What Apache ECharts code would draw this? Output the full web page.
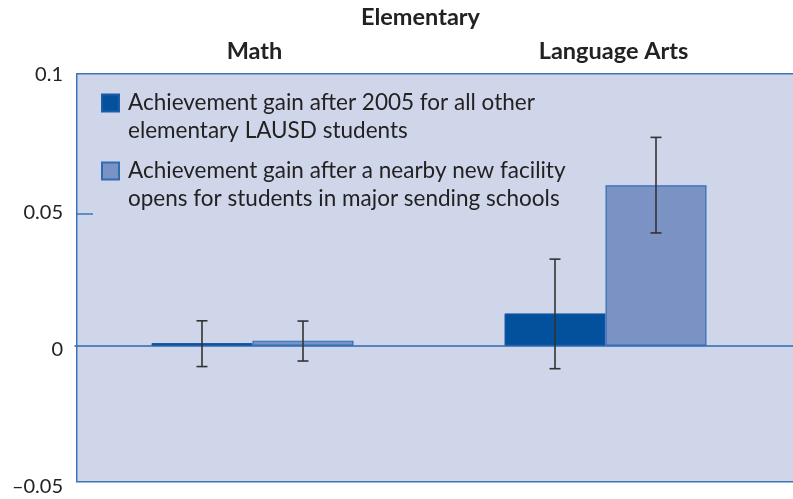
<!DOCTYPE html>
<html>
<head>
<meta charset="utf-8">
<script src="https://cdn.jsdelivr.net/npm/echarts@6/dist/echarts.min.js"></script>
<style>
  html, body { margin: 0; padding: 0; background: #fff; }
  #chart { width: 793px; height: 499px; }
</style>
</head>
<body>
<div id="chart"></div>
<script>
const categories = ["Math", "Language Arts"];
const seriesNames = [
  "Achievement gain after 2005 for all other elementary LAUSD students",
  "Achievement gain after a nearby new facility opens for students in major sending schools",
];
const legendLabels = [
  "Achievement gain after 2005 for all other\nelementary LAUSD students",
  "Achievement gain after a nearby new facility\nopens for students in major sending schools",
];
const otherGain = [0.001, 0.0122];
const otherLow = [-0.0079, -0.0087];
const otherHigh = [0.0094, 0.0327];
const nearbyGain = [0.0019, 0.0606];
const nearbyLow = [-0.0058, 0.0426];
const nearbyHigh = [0.0093, 0.0787];
const yLabels = [-0.05, 0, 0.05, 0.1];

const colors = ["#03519c", "#7b93c4"];
const FONT = "Lato";
const BAR_W = 101;

const chart = echarts.init(document.getElementById("chart"));

// error bars drawn on top of each bar, offset to the bar's centre
const errorSeries = (low, high, offset) => ({
  type: "custom",
  xAxisIndex: 0,
  yAxisIndex: 0,
  z: 5,
  silent: true,
  data: categories.map((c, i) => [i, low[i], high[i]]),
  renderItem: (params, api) => {
    const x = api.coord([api.value(0), 0])[0] + offset;
    const yLo = api.coord([api.value(0), api.value(1)])[1];
    const yHi = api.coord([api.value(0), api.value(2)])[1];
    const style = { stroke: "#333", lineWidth: 1.6 };
    return {
      type: "group",
      children: [
        { type: "line", shape: { x1: x, y1: yLo, x2: x, y2: yHi }, style },
        { type: "line", shape: { x1: x - 5.5, y1: yLo, x2: x + 5.5, y2: yLo }, style },
        { type: "line", shape: { x1: x - 5.5, y1: yHi, x2: x + 5.5, y2: yHi }, style },
      ],
    };
  },
});

const option = {
  backgroundColor: "#fff",
  animation: false,
  textStyle: { fontFamily: FONT },
  title: {
    text: "Elementary",
    left: 361,
    top: 5,
    padding: 0,
    textStyle: { fontFamily: FONT, fontWeight: "bold", fontSize: 23.5, color: "#222" },
  },
  graphic: [
    {
      type: "rect",
      z: -1,
      left: 76,
      top: 73,
      shape: { width: 730, height: 408 },
      style: { fill: "#d0d6ea", stroke: "#3a74b9", lineWidth: 1.5 },
    },
  ],
  legend: {
    orient: "vertical",
    left: 101,
    top: 61,
    padding: 0,
    itemGap: -16,
    itemWidth: 17,
    itemHeight: 17,
    icon: "rect",
    data: seriesNames,
    // leading empty line keeps the first text line level with the square
    formatter: (name) => "\n" + legendLabels[seriesNames.indexOf(name)],
    textStyle: {
      fontFamily: FONT,
      fontSize: 22.5,
      lineHeight: 28,
      color: "#222",
      padding: [0, 0, 0, 4],
    },
  },
  grid: [
    // bars
    { left: 76, right: 11, top: 81, height: 397, show: false },
    // group labels and zero line
    { left: 75, width: 726, top: 81, height: 397, show: false },
    // tick labels (spaced a little wider in the original)
    { left: 76, width: 10, top: 75, height: 412, show: false },
  ],
  xAxis: [
    {
      gridIndex: 0,
      type: "category",
      data: categories,
      axisLine: { show: false, onZero: false },
      axisTick: { show: false },
      axisLabel: { show: false },
    },
    {
      gridIndex: 1,
      type: "category",
      position: "top",
      data: categories,
      axisLine: { show: false, onZero: false },
      axisTick: { show: false },
      axisLabel: {
        margin: 18,
        fontFamily: FONT,
        fontWeight: "bold",
        fontSize: 23.5,
        color: "#222",
      },
    },
    {
      gridIndex: 1,
      type: "category",
      position: "bottom",
      data: categories,
      axisLine: { show: true, onZero: true, onZeroAxisIndex: 1, lineStyle: { color: "#2a69b3", width: 1.5 } },
      axisTick: { show: false },
      axisLabel: { show: false },
    },
    {
      gridIndex: 2,
      type: "category",
      data: categories,
      show: false,
    },
  ],
  yAxis: [
    {
      gridIndex: 0,
      type: "value",
      min: -0.05,
      max: 0.1,
      axisLine: { show: false },
      splitLine: { show: false },
      axisTick: {
        show: true,
        inside: true,
        length: 17,
        customValues: [0.05],
        lineStyle: { color: "#3a74b9", width: 1.5 },
      },
      axisLabel: { show: false },
    },
    {
      gridIndex: 1,
      type: "value",
      min: -0.05,
      max: 0.1,
      axisLine: { show: false },
      axisTick: { show: false },
      axisLabel: { show: false },
      splitLine: { show: false },
    },
    {
      gridIndex: 2,
      type: "value",
      min: -0.05,
      max: 0.1,
      axisLine: { show: false },
      axisTick: { show: false },
      splitLine: { show: false },
      axisLabel: {
        customValues: yLabels,
        margin: 13,
        fontFamily: FONT,
        fontSize: 20,
        color: "#222",
        formatter: (v) => String(v).replace("-", "\u2013"),
      },
    },
  ],
  series: [
    {
      name: seriesNames[0],
      type: "bar",
      xAxisIndex: 0,
      yAxisIndex: 0,
      barWidth: BAR_W,
      barGap: "0%",
      data: otherGain,
      itemStyle: { color: colors[0], borderColor: "#1c5ba6", borderWidth: 1 },
    },
    {
      name: seriesNames[1],
      type: "bar",
      xAxisIndex: 0,
      yAxisIndex: 0,
      barWidth: BAR_W,
      barGap: "0%",
      data: nearbyGain,
      itemStyle: { color: colors[1], borderColor: "#2f6cb4", borderWidth: 1.2 },
    },
    errorSeries(otherLow, otherHigh, -BAR_W / 2),
    errorSeries(nearbyLow, nearbyHigh, BAR_W / 2),
  ],
};

chart.setOption(option);
</script>
</body>
</html>
